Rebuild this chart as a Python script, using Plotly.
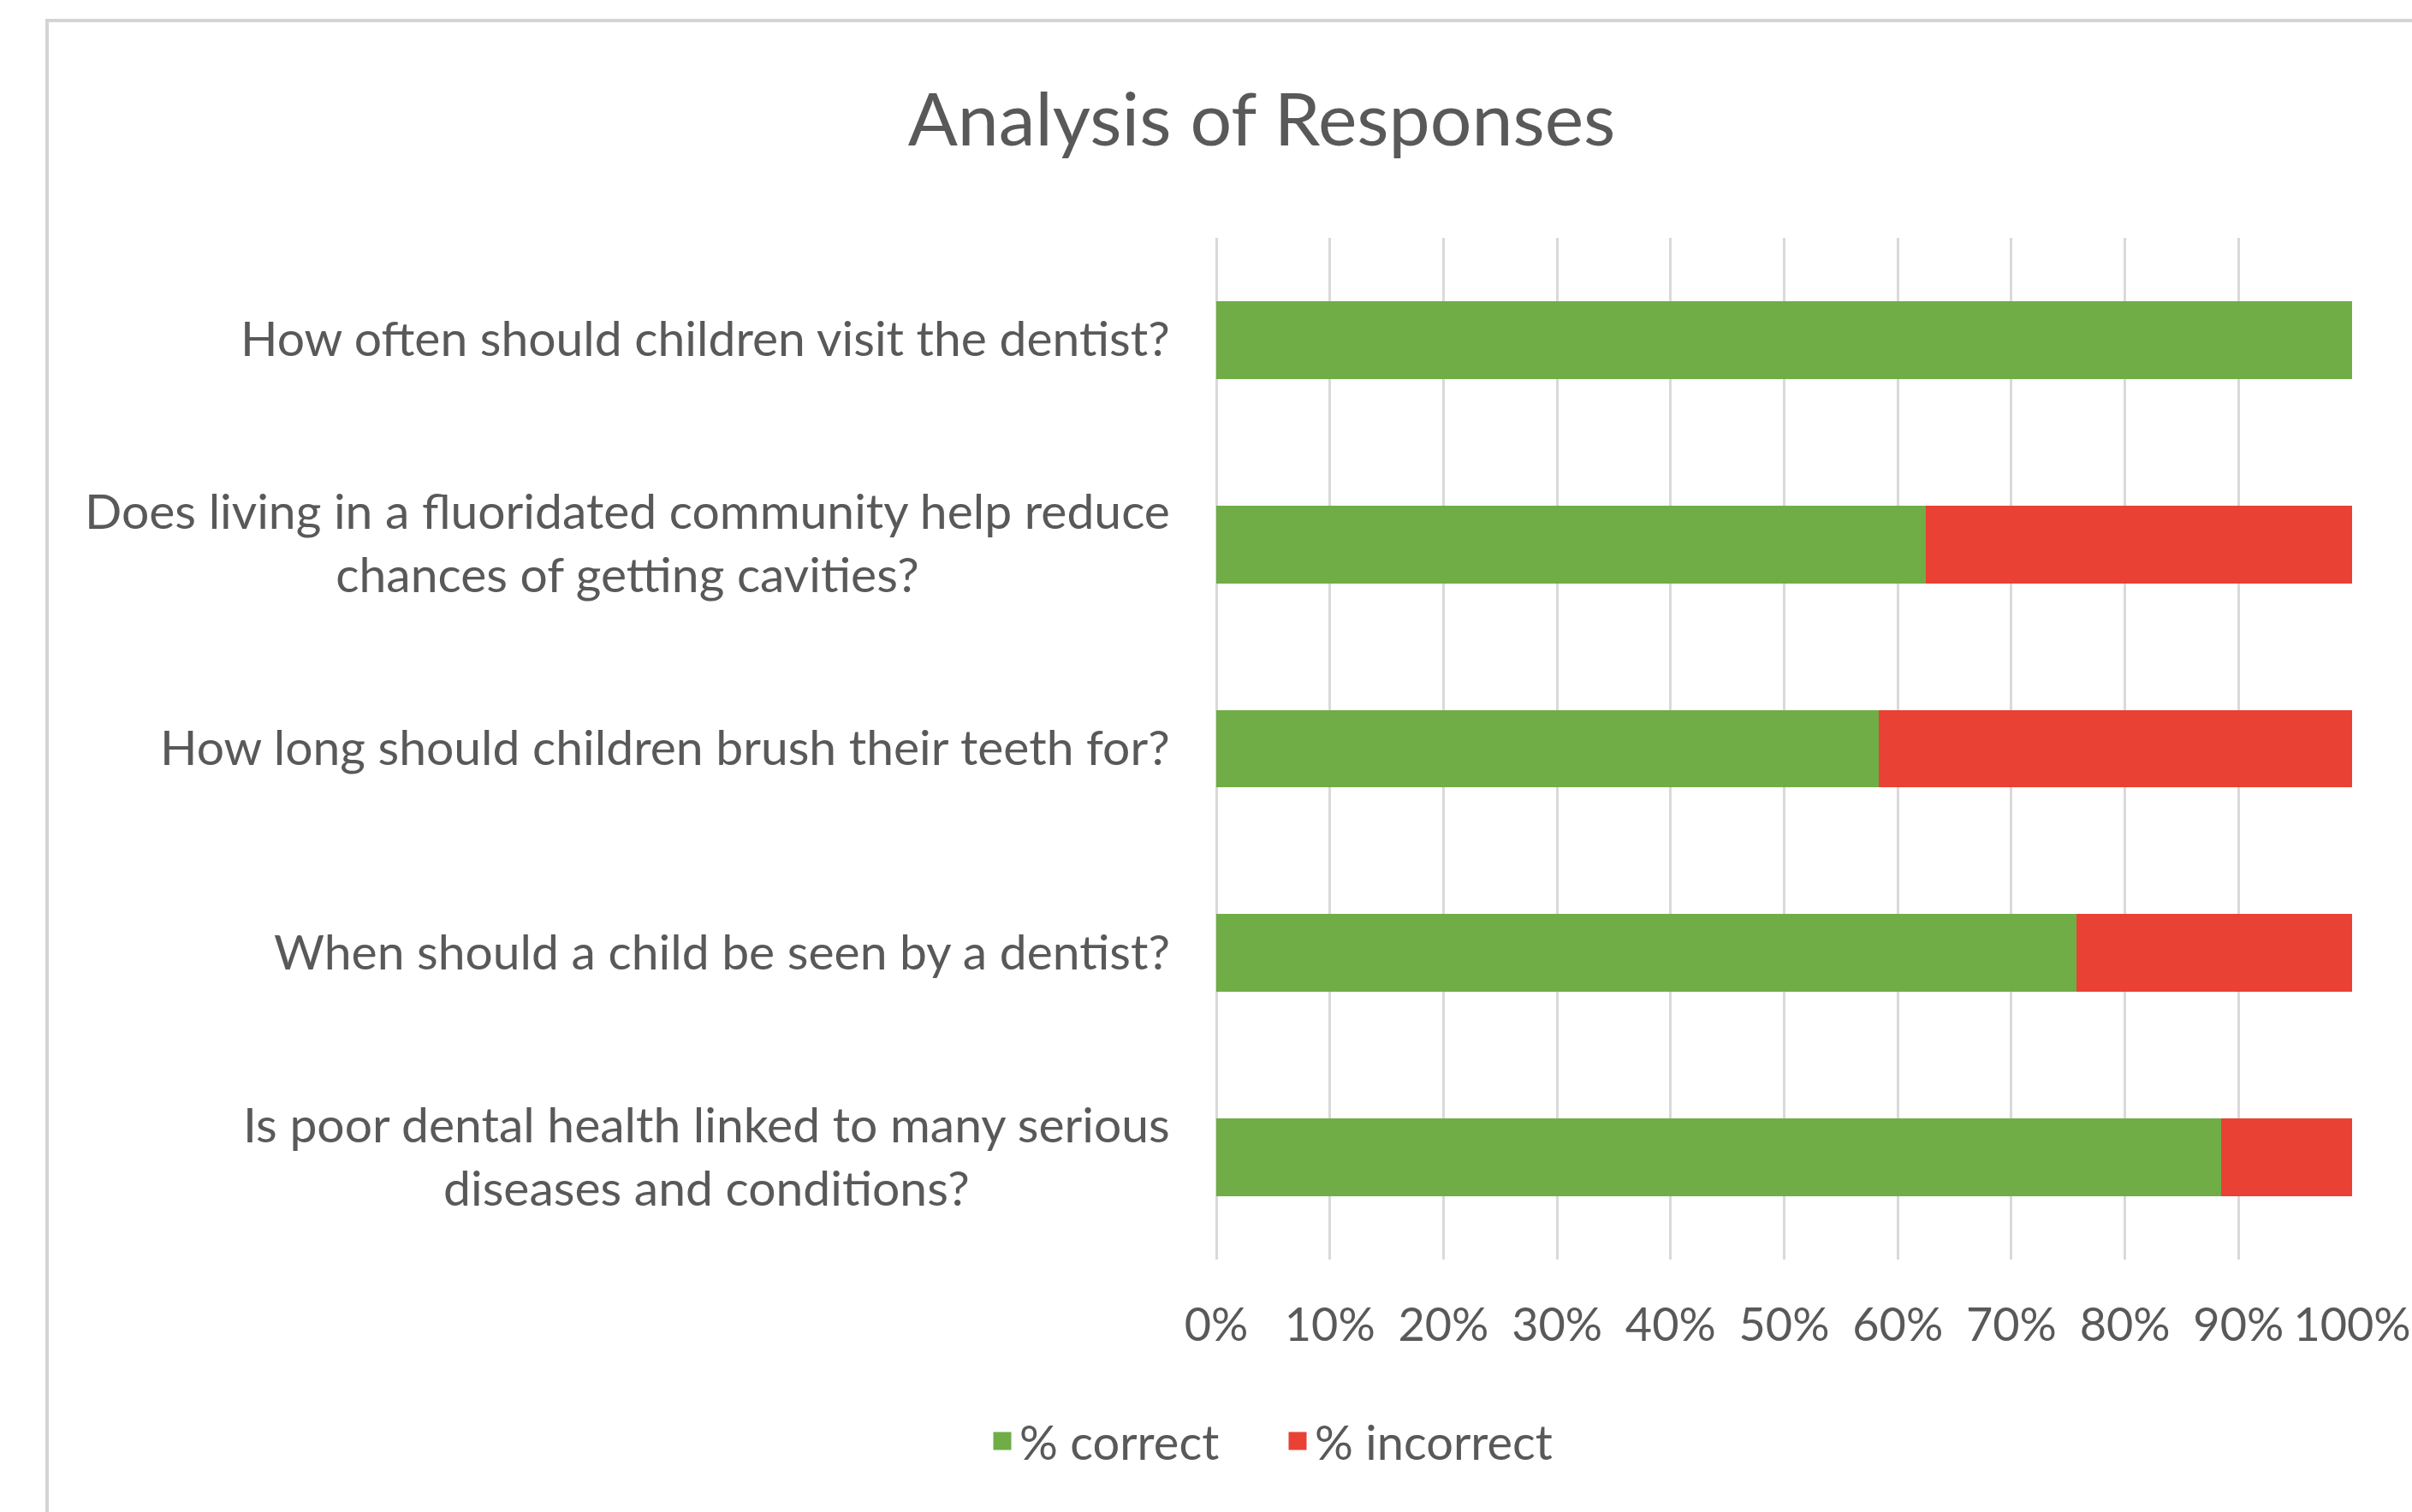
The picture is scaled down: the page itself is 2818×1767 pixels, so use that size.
import plotly.graph_objects as go

questions = [
    "How often should children visit the dentist?",
    "Does living in a fluoridated community help reduce<br>chances of getting cavities?",
    "How long should children brush their teeth for?",
    "When should a child be seen by a dentist?",
    "Is poor dental health linked to many serious<br>diseases and conditions?",
]
pct_correct = [1.0, 0.625, 0.583, 0.757, 0.885]
pct_incorrect = [0.0, 0.375, 0.417, 0.243, 0.115]
series_names = ["% correct", "% incorrect"]
series_colors = ["#70AD47", "#E94134"]
x_tickvals = [0, 0.1, 0.2, 0.3, 0.4, 0.5, 0.6, 0.7, 0.8, 0.9, 1.0]
x_ticktext = ["0%", "10%", "20%", "30%", "40%", "50%", "60%", "70%", "80%", "90%", "100%"]

W, H = 2818, 1767
L, R, T, B = 1421, 70, 278, 295
FONT = "Lato, 'Open Sans', sans-serif"
TXT = "#595959"
GRID = "#D9D9D9"
pw = W - L - R
ph = H - T - B

fig = go.Figure()
for name, vals, col in zip(series_names, [pct_correct, pct_incorrect], series_colors):
    fig.add_trace(go.Bar(
        y=questions, x=vals, name=name, orientation="h",
        marker=dict(color=col, line=dict(width=0)),
        hoverinfo="x+y", showlegend=False, legendgroup=name,
    ))
# legend entries with larger square swatches
for name, col in zip(series_names, series_colors):
    fig.add_trace(go.Scatter(
        x=[None], y=[None], mode="markers", name=name, legendgroup=name,
        marker=dict(symbol="square", size=16, color=col, line=dict(color=col, width=5)),
        showlegend=True, hoverinfo="skip",
    ))

# category labels: right-aligned block, lines centred within it (as in Excel)
for q in questions:
    fig.add_annotation(text=q, xref="paper", yref="y", x=-52 / pw, y=q,
                       xanchor="right", yanchor="middle", align="center", yshift=3,
                       showarrow=False, font=dict(size=57, color=TXT, family=FONT))

fig.add_shape(type="rect", xref="paper", yref="paper",
              x0=(55 - L) / pw, x1=1.2, y0=-0.6, y1=(H - B - 24) / ph,
              line=dict(color="#D4D4D4", width=4), layer="below")

fig.update_layout(
    width=W, height=H,
    margin=dict(l=L, r=R, t=T, b=B, autoexpand=False),
    paper_bgcolor="white", plot_bgcolor="white",
    barmode="stack", bargap=0.62,
    font=dict(family=FONT, color=TXT, size=56),
    title=dict(text="Analysis of Responses", x=1474 / W, xanchor="center", xref="container",
               y=1 - 140 / H, yanchor="middle", yref="container",
               font=dict(size=86, color=TXT, family=FONT)),
    legend=dict(orientation="h", x=1151 / W, xanchor="left", xref="container",
                y=1 - 1684 / H, yanchor="middle", yref="container",
                font=dict(size=56, color=TXT), itemwidth=30, traceorder="normal",
                entrywidth=300, entrywidthmode="pixels"),
    xaxis=dict(range=[0, 1], tickvals=x_tickvals, ticktext=x_ticktext,
               showgrid=True, gridcolor=GRID, gridwidth=3,
               zeroline=True, zerolinecolor=GRID, zerolinewidth=3,
               showline=False, ticks="",
               ticklabelstandoff=40, tickfont=dict(size=54, color=TXT)),
    yaxis=dict(autorange="reversed", showgrid=False, zeroline=False, showline=False,
               ticks="", showticklabels=False),
)

fig.write_html("out.html")
